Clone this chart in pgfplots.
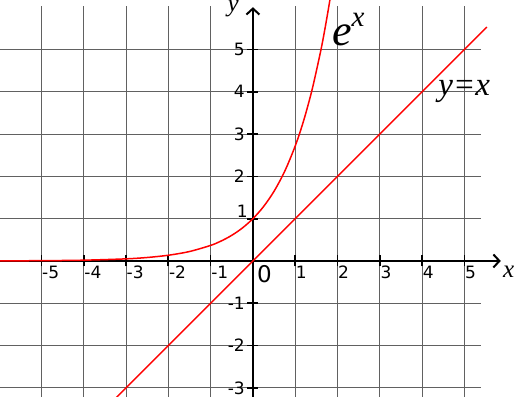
\documentclass[border=0pt]{standalone}
\usepackage{fontspec}
\setmainfont{DejaVu Sans}
\newfontfamily\tnr{Liberation Serif}
\usepackage{pgfplots}
\pgfplotsset{compat=1.18}
\usetikzlibrary{arrows.meta}

\begin{document}
\begin{tikzpicture}
\begin{axis}[
  set layers,
  x=42.3pt, y=42.3pt,
  xmin=-5.98, xmax=6.22, ymin=-3.215, ymax=6.17,
  axis lines=middle,
  axis line style={draw=none},
  clip=false,
  xtick={-5,-4,-3,-2,-1,1,2,3,4,5},
  xticklabels={-5,-4,-3,-2,-1,1,2,3,4,5},
  ytick={-3,-2,-1,1,2,3,4,5},
  yticklabels={-3,-2,-1,,2,3,4,5},
  major tick length=0pt,
  tick style={draw=none},
  xticklabel style={anchor=north west, inner sep=0pt, xshift=0.5pt, yshift=-5pt, font=\fontsize{17}{17}\selectfont},
  yticklabel style={anchor=east, inner sep=0pt, xshift=-8pt, font=\fontsize{17}{17}\selectfont},
]
\begin{pgfonlayer}{axis background}
% grid
\foreach \v in {-5,-4,-3,-2,-1,1,2,3,4,5} {
  \edef\tmp{\noexpand\draw[black!62, line width=0.9pt] (axis cs:\v,-3.215) -- (axis cs:\v,6.02);}\tmp
}
\foreach \h in {-3,-2,-1,1,2,3,4,5} {
  \edef\tmp{\noexpand\draw[black!62, line width=0.9pt] (axis cs:-5.98,\h) -- (axis cs:5.4,\h);}\tmp
}
% axes
\draw[black, line width=2.3pt, -{Straight Barb[length=6pt,width=13pt,line width=2pt]}] (axis cs:-5.98,0) -- (axis cs:5.86,0);
\draw[black, line width=2.3pt, -{Straight Barb[length=6pt,width=13pt,line width=2pt]}] (axis cs:0,-3.215) -- (axis cs:0,6.0);
% tick marks
\foreach \v in {-5,-4,-3,-2,-1,1,2,3,4,5} {
  \edef\tmp{\noexpand\draw[black, line width=1.7pt] ([yshift=-5.5pt]axis cs:\v,0) -- ([yshift=5.5pt]axis cs:\v,0);}\tmp
}
\foreach \h in {-3,-2,-1,1,2,3,4,5} {
  \edef\tmp{\noexpand\draw[black, line width=1.7pt] ([xshift=-5.5pt]axis cs:0,\h) -- ([xshift=5.5pt]axis cs:0,\h);}\tmp
}
\end{pgfonlayer}

% y = x
\addplot[red, line width=1.5pt] coordinates {(-3.3,-3.3) (5.53,5.53)};
% e^x
\addplot[red, line width=1.5pt, smooth] coordinates {
(-5.98,0.0025) (-5,0.0067) (-4,0.0183) (-3,0.0498) (-2.5,0.0821) (-2,0.1353)
(-1.5,0.2231) (-1,0.3679) (-0.75,0.4724) (-0.5,0.6065) (-0.25,0.7788) (0,1)
(0.25,1.2840) (0.5,1.6487) (0.75,2.1170) (1,2.7183) (1.2,3.3201) (1.4,4.0552)
(1.6,4.9530) (1.7,5.4739) (1.8,6.0496) (1.85,6.3598)};

% labels
\node[anchor=south east, inner sep=0pt, font=\fontsize{17}{17}\selectfont] at (axis cs:-0.12,1.02) {1};
\node[anchor=north west, inner sep=0pt, font=\fontsize{23}{23}\selectfont] at (axis cs:0.095,-0.095) {0};
\node[anchor=base west, inner sep=0pt] at (axis cs:1.87,5.1) {\tnr\itshape\fontsize{44}{44}\selectfont e\raisebox{19pt}{\fontsize{29}{29}\selectfont x}};
\node[anchor=base west, inner sep=0pt] at (axis cs:4.38,3.92) {\tnr\itshape\fontsize{33}{33}\selectfont y=x};
\node[anchor=base west, inner sep=0pt] at (axis cs:5.91,-0.4) {\tnr\itshape\fontsize{25}{25}\selectfont x};
\node[anchor=base west, inner sep=0pt] at (axis cs:-0.6,5.9) {\tnr\itshape\fontsize{25}{25}\selectfont y};

\coordinate (BL) at (axis cs:-5.98,-3.215);
\coordinate (TR) at (axis cs:6.22,6.17);
\end{axis}
\pgfresetboundingbox
\path[use as bounding box] (BL) rectangle (TR);
\end{tikzpicture}
\end{document}
